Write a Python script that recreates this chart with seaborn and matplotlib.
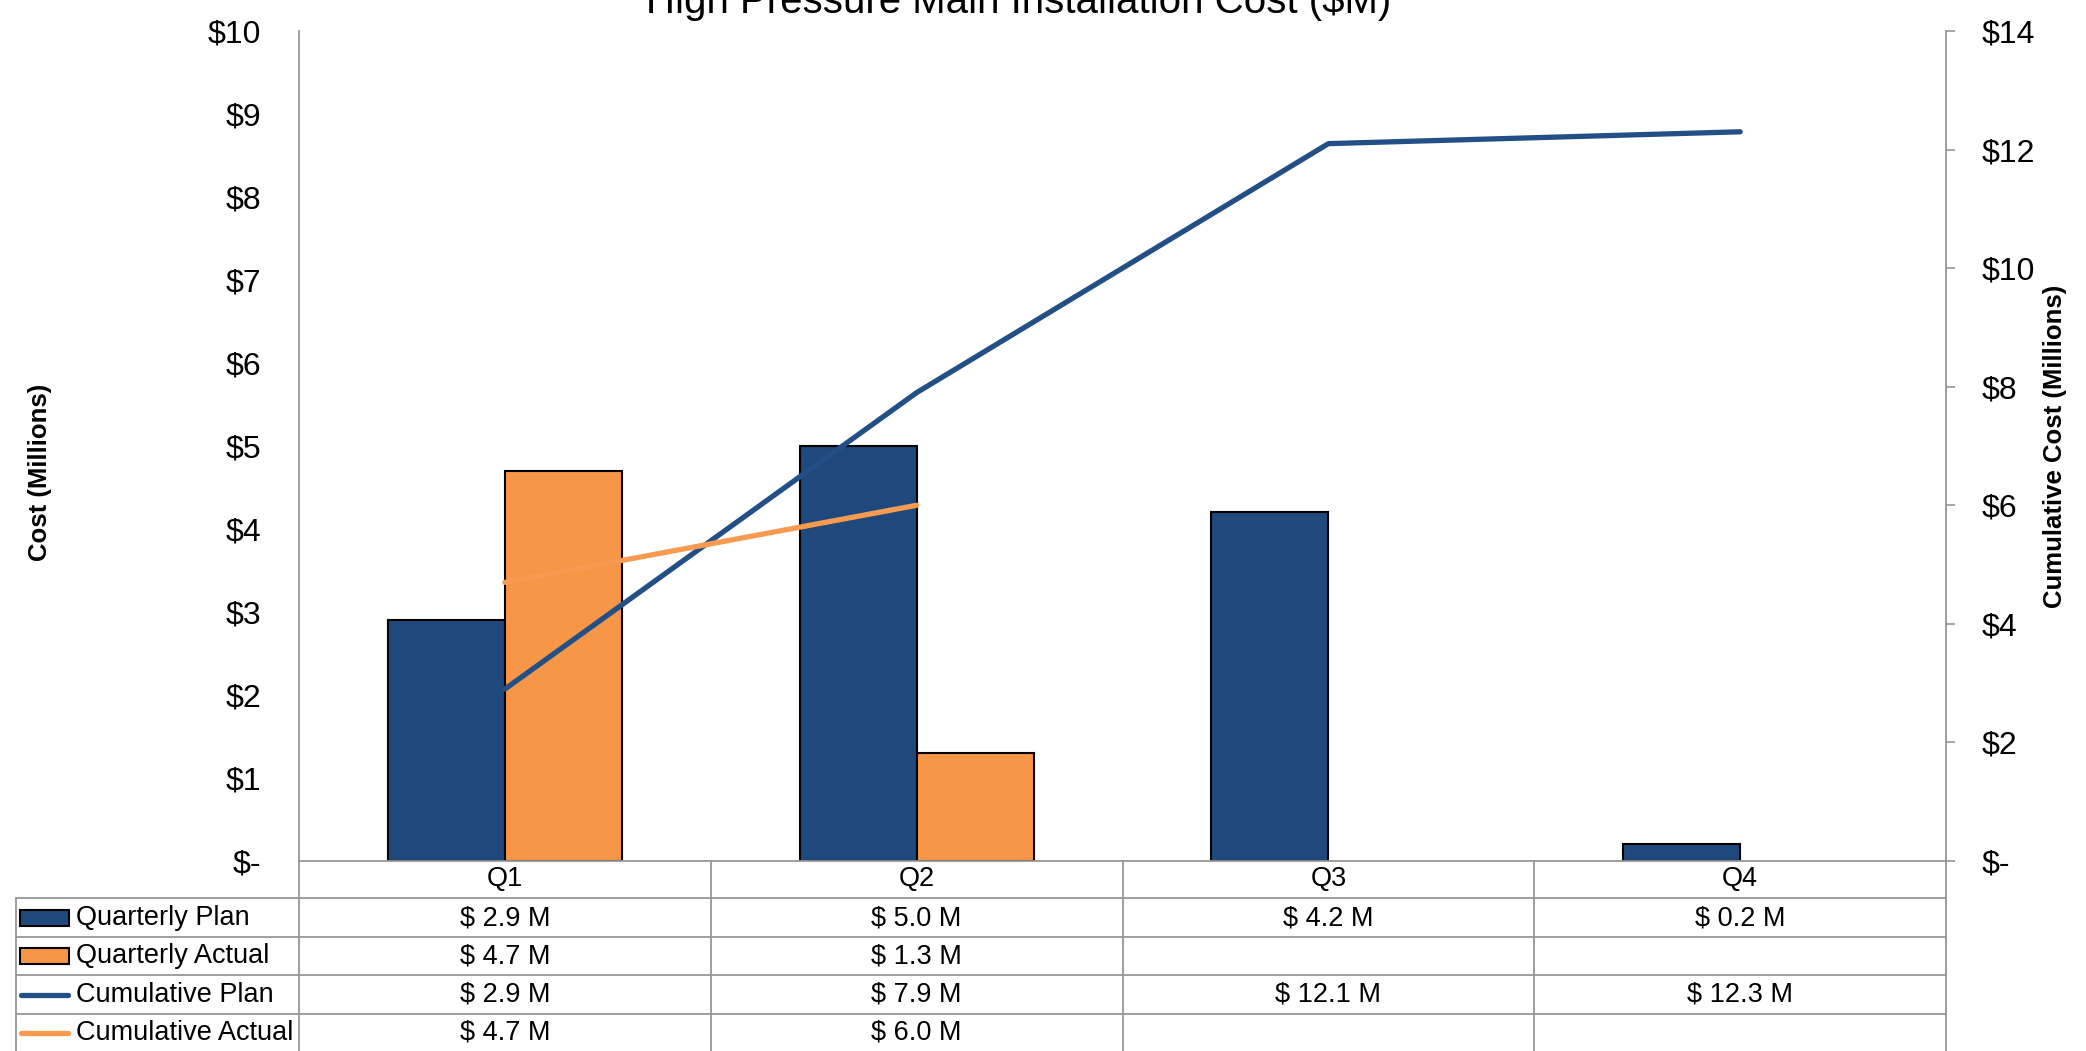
import numpy as np
import pandas as pd
import matplotlib
matplotlib.use("Agg")
import matplotlib.pyplot as plt
import seaborn as sns
from matplotlib.lines import Line2D
from matplotlib.patches import Rectangle
from matplotlib.transforms import blended_transform_factory

# ---------------- data ----------------
quarters = ["Q1", "Q2", "Q3", "Q4"]
quarterly_plan = [2.9, 5.0, 4.2, 0.2]
quarterly_actual = [4.7, 1.3, np.nan, np.nan]
cumulative_plan = [2.9, 7.9, 12.1, 12.3]
cumulative_actual = [4.7, 6.0, np.nan, np.nan]
row_labels = ["Quarterly Plan", "Quarterly Actual", "Cumulative Plan", "Cumulative Actual"]
left_ticks = list(range(0, 11))
right_ticks = list(range(0, 15, 2))
title = "High Pressure Main Installation Cost ($M)"

NAVY = "#1F497D"
ORANGE = "#F79646"
LNAVY = "#224F86"
LORANGE = "#F89A4F"
GREY = "#969696"

sns.set_theme(style="white")
plt.rcParams["font.family"] = ["Liberation Sans", "DejaVu Sans"]
plt.rcParams["text.color"] = "black"
plt.rcParams["ytick.labelcolor"] = "black"
plt.rcParams["xtick.labelcolor"] = "black"

W, H = 2086, 1051
fig = plt.figure(figsize=(W / 100, H / 100), dpi=100)
fx = lambda x: x / W
fy = lambda y: 1 - y / H

ax = fig.add_axes([fx(299), fy(861), fx(1946) - fx(299), fy(31) - fy(861)])

bars = pd.DataFrame({
    "Quarter": quarters * 2,
    "Series": ["Quarterly Plan"] * 4 + ["Quarterly Actual"] * 4,
    "Value": quarterly_plan + quarterly_actual,
}).dropna()

sns.barplot(data=bars, x="Quarter", y="Value", hue="Series", order=quarters,
            hue_order=["Quarterly Plan", "Quarterly Actual"],
            palette=[NAVY, ORANGE], saturation=1, width=0.568, errorbar=None,
            edgecolor="black", linewidth=1.5, legend=False, ax=ax)

ax2 = ax.twinx()
pos = np.arange(len(quarters))
cp = pd.DataFrame({"x": pos, "y": cumulative_plan}).dropna()
ca = pd.DataFrame({"x": pos, "y": cumulative_actual}).dropna()
sns.lineplot(data=cp, x="x", y="y", ax=ax2, color=LNAVY, linewidth=3.8, solid_capstyle="round")
sns.lineplot(data=ca, x="x", y="y", ax=ax2, color=LORANGE, linewidth=3.8, solid_capstyle="round")

ax.set_xlim(-0.5, len(quarters) - 0.5)
ax.set_ylim(0, 10)
ax2.set_ylim(0, 14)

ax.set_yticks(left_ticks)
ax.set_yticklabels(["$-" if v == 0 else f"${v}" for v in left_ticks], fontsize=23)
ax2.set_yticks(right_ticks)
ax2.set_yticklabels(["$-" if v == 0 else f"${v}" for v in right_ticks], fontsize=23)
ax.tick_params(axis="y", length=0, pad=27)
ax2.tick_params(axis="y", length=6.5, width=1.2, color=GREY, direction="out", pad=19, right=True)
ax.tick_params(axis="x", length=0, labelbottom=False)
ax.set_xlabel("")
ax.set_ylabel("")
ax2.set_xlabel("")
ax2.set_ylabel("")

for a in (ax, ax2):
    a.spines["top"].set_visible(False)
    for s in ("left", "right", "bottom"):
        a.spines[s].set_color(GREY)
        a.spines[s].set_linewidth(1.3)
ax.spines["right"].set_visible(False)
ax2.spines["left"].set_visible(False)
ax2.spines["bottom"].set_visible(False)

# axis titles
fig.text(fx(40), fy(472), "Cost (Millions)", rotation=90, ha="center", va="center",
         fontsize=18.5, fontweight="bold")
fig.text(fx(2055), fy(446), "Cumulative Cost (Millions)", rotation=90, ha="center", va="center",
         fontsize=18.5, fontweight="bold")
fig.text(fx(1019), fy(13), title, ha="center", va="baseline", fontsize=29)

# ---------------- data table ----------------
tr = blended_transform_factory(ax.transData, fig.transFigure)
n = len(quarters)
row_lines = [898, 937, 975, 1014]
row_centers = [918, 956, 995, 1033]

# vertical column separators
for i in range(0, n + 1):
    fig.add_artist(Line2D([i - 0.5, i - 0.5], [fy(861), 0], transform=tr, color=GREY, lw=1.3, clip_on=False))
fig.add_artist(Line2D([fx(16), fx(16)], [fy(898), 0], transform=fig.transFigure, color=GREY, lw=1.3))
for y in row_lines:
    fig.add_artist(Line2D([fx(16), fx(1946)], [fy(y), fy(y)], transform=fig.transFigure, color=GREY, lw=1.3))

# header
for i, q in enumerate(quarters):
    fig.text(i, fy(879), q, transform=tr, ha="center", va="center", fontsize=19.5)

series = [quarterly_plan, quarterly_actual, cumulative_plan, cumulative_actual]
for r, (lab, vals) in enumerate(zip(row_labels, series)):
    yc = fy(row_centers[r])
    for i, v in enumerate(vals):
        if not np.isnan(v):
            fig.text(i, yc, f"$ {v:.1f} M", transform=tr, ha="center", va="center", fontsize=19.5)
    fig.text(fx(76), yc, lab, ha="left", va="center", fontsize=19.5)

# legend keys
key_h = 16
for r, fc in enumerate([NAVY, ORANGE]):
    yc = row_centers[r]
    fig.add_artist(Rectangle((fx(20), fy(yc + key_h / 2)), fx(69) - fx(20), key_h / H,
                             transform=fig.transFigure, facecolor=fc, edgecolor="black", lw=1.5))
for r, c in zip([2, 3], [LNAVY, LORANGE]):
    yc = fy(row_centers[r])
    fig.add_artist(Line2D([fx(21), fx(68)], [yc, yc], transform=fig.transFigure, color=c, lw=3.8,
                          solid_capstyle="round"))

fig.savefig("out.png", dpi=100)
